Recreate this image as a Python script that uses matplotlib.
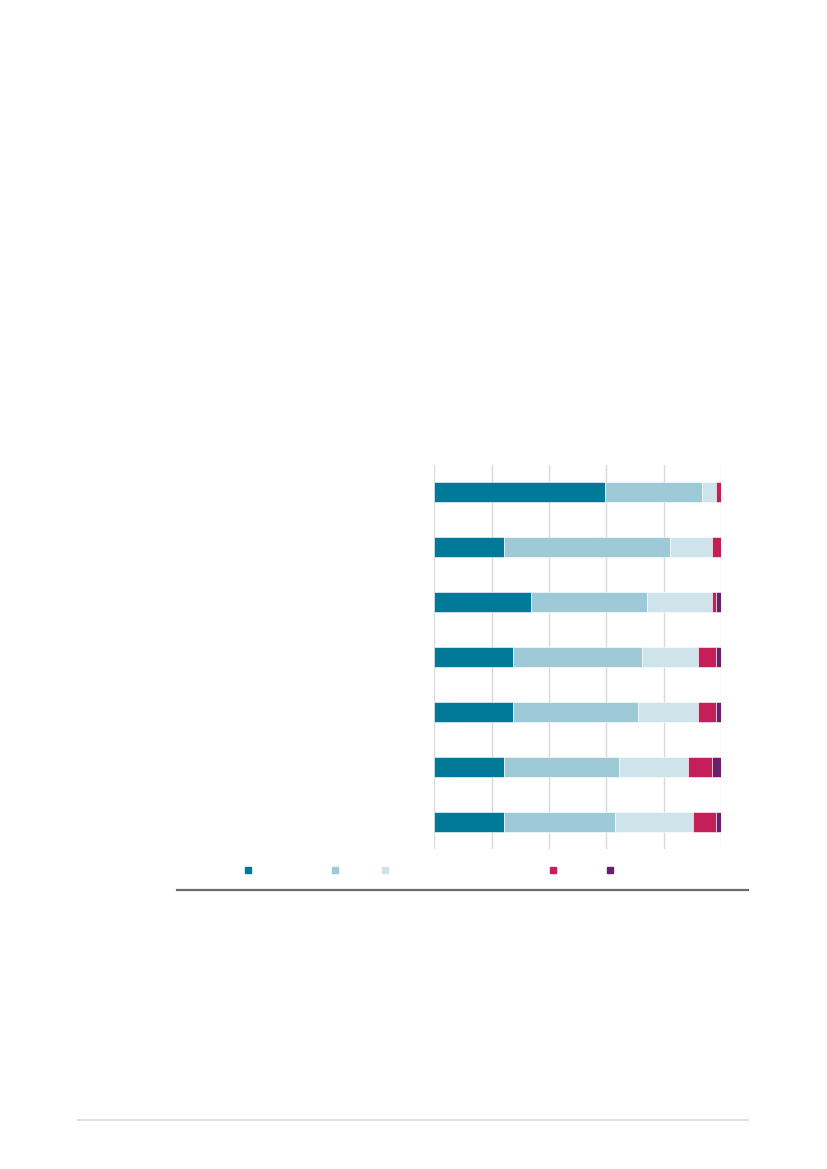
import numpy as np
import matplotlib
matplotlib.use("Agg")
import matplotlib.pyplot as plt
from matplotlib.lines import Line2D

# rows from top to bottom, values are percentages
rows = ["1", "2", "3", "4", "5", "6", "7"]
seg_dark = [59.6, 24.3, 33.7, 27.4, 27.4, 24.3, 24.3]
seg_mid = [33.7, 57.9, 40.5, 45.0, 43.6, 40.1, 38.7]
seg_light = [4.9, 14.5, 22.6, 19.5, 20.9, 24.2, 27.2]
seg_pink = [1.8, 3.3, 1.6, 6.4, 6.4, 8.3, 8.2]
seg_purple = [0.0, 0.0, 1.6, 1.7, 1.7, 3.1, 1.6]

colors = ["#007a98", "#9dcad6", "#cee4ea", "#c41f58", "#6a1f6a"]
series = [seg_dark, seg_mid, seg_light, seg_pink, seg_purple]

fig = plt.figure(figsize=(8.27, 11.69), dpi=100)
W, H = 827, 1169
x0, x1 = 434.3, 721.0
y_top, y_bot = 465.0, 849.0
ax = fig.add_axes([x0 / W, 1 - y_bot / H, (x1 - x0) / W, (y_bot - y_top) / H])

ypos = np.arange(len(rows))
left = np.zeros(len(rows))
for vals, c in zip(series, colors):
    vals = np.array(vals)
    ax.barh(ypos, vals, left=left, height=0.365, color=c,
            edgecolor="white", linewidth=0.4, zorder=3)
    left += vals

ax.set_xlim(0, 100)
ax.set_ylim(len(rows) - 0.5, -0.5)
ax.set_xticks([0, 20, 40, 60, 80, 100])
ax.set_yticks([])
ax.grid(axis="x", color="#d9d9d9", linewidth=1.0, zorder=0)
ax.tick_params(length=0, labelbottom=False, labelleft=False)
for s in ax.spines.values():
    s.set_visible(False)

# legend squares
legend_x = [248.5, 335.0, 384.5, 553.0, 610.0]
for lx, c in zip(legend_x, colors):
    fig.add_artist(Line2D([lx / W], [1 - 870 / H], transform=fig.transFigure,
                          marker="s", markersize=4.6, color=c,
                          markeredgecolor=c, linestyle="none"))

# rule under the chart
fig.add_artist(Line2D([177 / W, 748 / W], [1 - 890.3 / H] * 2,
                      transform=fig.transFigure, color="#6e6a66", linewidth=1.6))
# page footer rule
fig.add_artist(Line2D([78 / W, 748 / W], [1 - 1120.2 / H] * 2,
                      transform=fig.transFigure, color="#e0e0e0", linewidth=1.4))

fig.savefig("out.png", dpi=100)
